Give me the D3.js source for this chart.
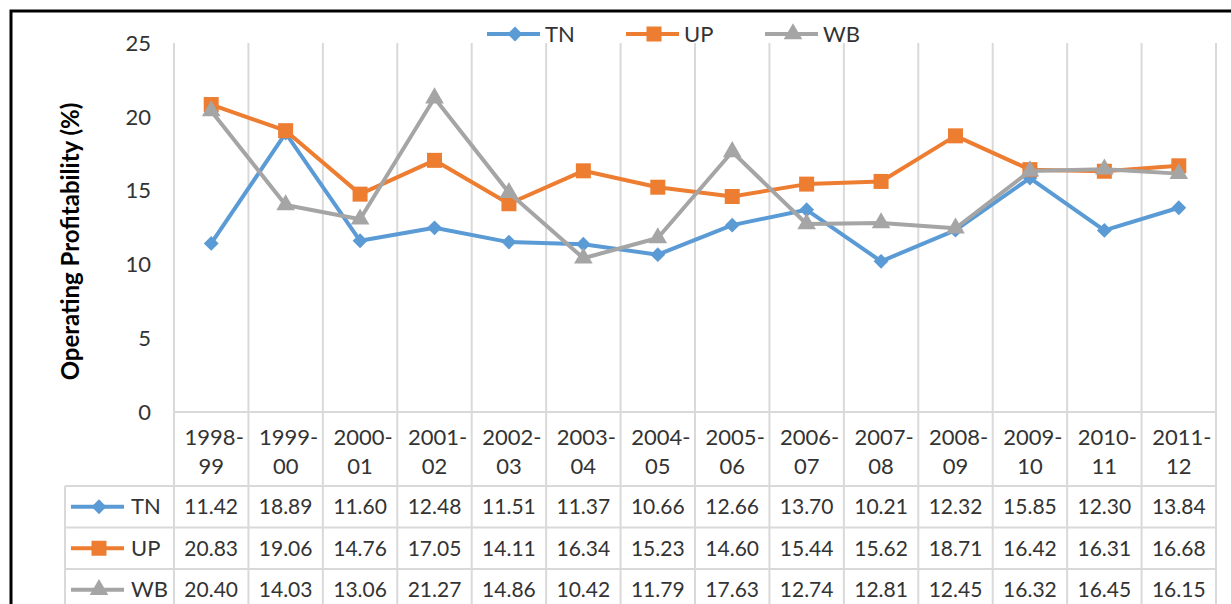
<!DOCTYPE html>
<html>
<head>
<meta charset="utf-8">
<title>Operating Profitability</title>
<script src="https://d3js.org/d3.v7.min.js"></script>
<style>
  body { margin: 0; padding: 0; background: #fff; font-family: Lato, "Open Sans", sans-serif; }
  svg text { fill: #333; }
</style>
</head>
<body>
<div id="chart"></div>
<script>
// data
const years = ["1998-99", "1999-00", "2000-01", "2001-02", "2002-03", "2003-04", "2004-05",
               "2005-06", "2006-07", "2007-08", "2008-09", "2009-10", "2010-11", "2011-12"];
const tn = [11.42, 18.89, 11.60, 12.48, 11.51, 11.37, 10.66, 12.66, 13.70, 10.21, 12.32, 15.85, 12.30, 13.84];
const up = [20.83, 19.06, 14.76, 17.05, 14.11, 16.34, 15.23, 14.60, 15.44, 15.62, 18.71, 16.42, 16.31, 16.68];
const wb = [20.40, 14.03, 13.06, 21.27, 14.86, 10.42, 11.79, 17.63, 12.74, 12.81, 12.45, 16.32, 16.45, 16.15];
const yTicks = [0, 5, 10, 15, 20, 25];

// diamond = square turned 45deg, like the spreadsheet marker
const series = [
  { name: "TN", values: tn, color: "#5B9BD5", shape: d3.symbolSquare, size: 110, rot: 45 },
  { name: "UP", values: up, color: "#ED7D31", shape: d3.symbolSquare, size: 225, rot: 0 },
  { name: "WB", values: wb, color: "#A5A5A5", shape: d3.symbolTriangle, size: 150, rot: 0 }
];

const W = 1231, H = 604;
const plotL = 174, plotR = 1216, plotT = 43, plotB = 412;
const rowH = 41.5, headerBottom = 486, tableLeft = 65;

const svg = d3.select("#chart").append("svg")
  .attr("width", W).attr("height", H);

// outer frame
svg.append("rect")
  .attr("x", 11).attr("y", 11).attr("width", W + 10).attr("height", H + 10)
  .attr("fill", "none").attr("stroke", "#000").attr("stroke-width", 3);

const x = d3.scaleBand().domain(years).range([plotL, plotR]);
const y = d3.scaleLinear().domain([0, 25]).range([plotB, plotT]);

const grid = "#d9d9d9";

// vertical gridlines through plot and header row
const edges = years.map(d => x(d)).concat([plotR]);
svg.append("g").selectAll("line").data(edges).join("line")
  .attr("x1", d => d).attr("x2", d => d)
  .attr("y1", plotT).attr("y2", headerBottom)
  .attr("stroke", grid).attr("stroke-width", 2);

// y tick labels
svg.append("g").selectAll("text").data(yTicks).join("text")
  .attr("x", 151).attr("y", d => y(d))
  .attr("dy", "0.35em").attr("text-anchor", "end")
  .style("font-size", "22px")
  .text(d => d);

// y title
svg.append("text")
  .attr("transform", `translate(79,${(plotT + plotB) / 2 + 14}) rotate(-90)`)
  .attr("text-anchor", "middle")
  .style("font-size", "24px").style("font-weight", "bold")
  .style("fill", "#000")
  .text("Operating Profitability (%)");

// table horizontal lines
const hLines = [plotB, headerBottom, headerBottom + rowH, headerBottom + 2 * rowH, headerBottom + 3 * rowH];
svg.append("g").selectAll("line").data(hLines).join("line")
  .attr("x1", (d, i) => i === 0 ? plotL : tableLeft).attr("x2", plotR)
  .attr("y1", d => d).attr("y2", d => d)
  .attr("stroke", grid).attr("stroke-width", 2);
svg.append("line")
  .attr("x1", tableLeft).attr("x2", tableLeft)
  .attr("y1", headerBottom).attr("y2", H)
  .attr("stroke", grid).attr("stroke-width", 2);
svg.append("g").selectAll("line").data(edges).join("line")
  .attr("x1", d => d).attr("x2", d => d)
  .attr("y1", headerBottom).attr("y2", H)
  .attr("stroke", grid).attr("stroke-width", 2);

// category labels in header row
const hdr = svg.append("g").selectAll("text").data(years).join("text")
  .attr("text-anchor", "middle")
  .style("font-size", "22px");
hdr.append("tspan")
  .attr("x", d => x(d) + x.bandwidth() / 2 + 3).attr("y", 445)
  .text(d => d.split("-")[0] + "-");
hdr.append("tspan")
  .attr("x", d => x(d) + x.bandwidth() / 2).attr("y", 474)
  .text(d => d.split("-")[1]);

// lines and markers
const line = d3.line()
  .x((d, i) => x(years[i]) + x.bandwidth() / 2)
  .y(d => y(d));

series.forEach(s => {
  svg.append("path")
    .datum(s.values)
    .attr("d", line)
    .attr("fill", "none")
    .attr("stroke", s.color)
    .attr("stroke-width", 4)
    .attr("stroke-linejoin", "round");
  svg.append("g").selectAll("path").data(s.values).join("path")
    .attr("transform", (d, i) => `translate(${x(years[i]) + x.bandwidth() / 2},${y(d)}) rotate(${s.rot})`)
    .attr("d", d3.symbol().type(s.shape).size(s.size))
    .attr("fill", s.color);
});

// legend keys
function key(g, s, cx, cy) {
  g.append("line")
    .attr("x1", cx - 28).attr("x2", cx + 25)
    .attr("y1", cy).attr("y2", cy)
    .attr("stroke", s.color).attr("stroke-width", 4);
  g.append("path")
    .attr("transform", `translate(${cx},${cy}) rotate(${s.rot})`)
    .attr("d", d3.symbol().type(s.shape).size(s.size))
    .attr("fill", s.color);
}

// top legend
const legendX = [515, 654, 793];
series.forEach((s, i) => {
  const g = svg.append("g");
  key(g, s, legendX[i], 34);
  g.append("text")
    .attr("x", legendX[i] + 30).attr("y", 34)
    .attr("dy", "0.35em")
    .style("font-size", "22px")
    .text(s.name);
});

// table rows
series.forEach((s, r) => {
  const cy = headerBottom + rowH * r + rowH / 2;
  const g = svg.append("g");
  key(g, s, 99, cy);
  g.append("text")
    .attr("x", 131).attr("y", cy).attr("dy", "0.35em")
    .style("font-size", "22px")
    .text(s.name);
  g.selectAll("text.v").data(s.values).join("text")
    .attr("class", "v")
    .attr("x", (d, i) => x(years[i]) + x.bandwidth() / 2)
    .attr("y", cy).attr("dy", "0.35em")
    .attr("text-anchor", "middle")
    .style("font-size", "21px")
    .text(d => d.toFixed(2));
});
</script>
</body>
</html>
